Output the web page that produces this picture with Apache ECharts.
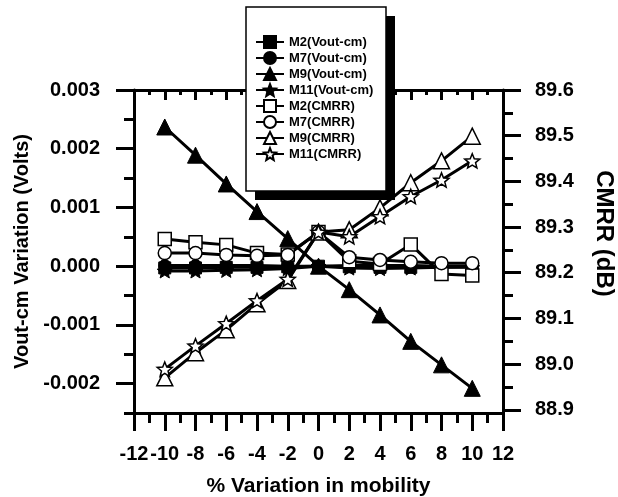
<!DOCTYPE html>
<html><head><meta charset="utf-8">
<script src="https://cdn.jsdelivr.net/npm/echarts@6/dist/echarts.min.js"></script>
<style>html,body{margin:0;padding:0;background:#fff}#c{width:618px;height:497px}</style>
</head><body><div id="c"></div>
<script>
// ---- data ----
const mobility = [-10, -8, -6, -4, -2, 0, 2, 4, 6, 8, 10];
const m2Vout  = [-0.00003, -0.00003, -0.00002, -0.00002, -0.00001, 0, -0.00001, -0.00002, -0.00002, -0.00002, -0.00001];
const m7Vout  = [0.00001, 0.00001, 0.00001, 0.00001, 0, 0, 0.00001, 0.00001, 0.00001, 0, 0];
const m9Vout  = [0.00237, 0.00189, 0.00140, 0.00093, 0.00047, 0, -0.00040, -0.00083, -0.00128, -0.00168, -0.00208];
const m11Vout = [-0.00008, -0.00008, -0.00007, -0.00006, -0.00004, 0, -0.00003, -0.00004, -0.00003, -0.00002, -0.00002];
const m2Cmrr  = [89.274, 89.267, 89.261, 89.243, 89.240, 89.289, 89.225, 89.219, 89.262, 89.197, 89.194];
const m7Cmrr  = [89.243, 89.243, 89.239, 89.237, 89.239, 89.289, 89.234, 89.228, 89.224, 89.221, 89.221];
const m9Cmrr  = [88.970, 89.025, 89.075, 89.132, 89.183, 89.289, 89.294, 89.342, 89.397, 89.445, 89.499];
const m11Cmrr = [88.989, 89.040, 89.089, 89.139, 89.186, 89.289, 89.279, 89.323, 89.367, 89.403, 89.445];
const seriesNames = ['M2(Vout-cm)', 'M7(Vout-cm)', 'M9(Vout-cm)', 'M11(Vout-cm)', 'M2(CMRR)', 'M7(CMRR)', 'M9(CMRR)', 'M11(CMRR)'];
const leftTicks  = [-0.002, -0.001, 0, 0.001, 0.002, 0.003];
const leftMinor  = [-0.0025, -0.0015, -0.0005, 0.0005, 0.0015, 0.0025];
const rightTicks = [88.9, 89.0, 89.1, 89.2, 89.3, 89.4, 89.5, 89.6];
const rightMinor = [88.95, 89.05, 89.15, 89.25, 89.35, 89.45, 89.55];

// ---- styling ----
const FONT = "'Liberation Sans', Arial, sans-serif";
const STAR = 'path://M50 0 L62.9 32.2 L97.55 34.55 L70.9 56.8 L79.39 90.45 L50 72 L20.61 90.45 L29.1 56.8 L2.45 34.55 L37.1 32.2 Z';
const pairs = arr => mobility.map((x, i) => [x, arr[i]]);
const filled = { color: '#000', borderColor: '#000', borderWidth: 1 };
const open = { color: '#fff', borderColor: '#000', borderWidth: 1.5 };
function mk(name, arr, yIdx, symbol, size, style) {
  return {
    name, type: 'line', xAxisIndex: 0, yAxisIndex: yIdx, data: pairs(arr),
    symbol, symbolSize: size, symbolKeepAspect: true, showAllSymbol: true,
    lineStyle: { color: '#000', width: 3 }, itemStyle: style,
    emphasis: { disabled: true }, animation: false
  };
}
const axisLine = { show: true, onZero: false, lineStyle: { color: '#000', width: 3 } };
const noLine = { show: false, onZero: false };
const lbl = { color: '#000', fontFamily: FONT, fontWeight: 'bold', fontSize: 20 };

const chart = echarts.init(document.getElementById('c'), null, { renderer: 'canvas' });
chart.setOption({
  backgroundColor: '#fff',
  animation: false,
  grid: { left: 134, right: 115, top: 90, bottom: 84, containLabel: false, outerBoundsMode: 'none' },
  graphic: [
    { type: 'rect', z: 3, shape: { x: 255, y: 16, width: 140, height: 184 }, style: { fill: '#000' } },
    { type: 'rect', z: 3, shape: { x: 246, y: 7, width: 140, height: 184 }, style: { fill: '#fff', stroke: '#000', lineWidth: 1.5 } }
  ],
  legend: {
    data: seriesNames, orient: 'vertical', left: 255, top: 35, z: 5,
    padding: 0, itemWidth: 28, itemHeight: 15, itemGap: 2,
    selectedMode: false,
    textStyle: { color: '#000', fontFamily: FONT, fontWeight: 'bold', fontSize: 13 }
  },
  xAxis: [
    {
      type: 'value', position: 'bottom', min: -12, max: 12, interval: 2,
      axisLine, splitLine: { show: false },
      axisTick: { show: true, inside: false, length: 18, lineStyle: { color: '#000', width: 3 } },
      minorTick: { show: true, splitNumber: 2, length: 10, lineStyle: { color: '#000', width: 3 } },
      axisLabel: Object.assign({ margin: 31 }, lbl),
      name: '% Variation in mobility', nameLocation: 'middle', nameGap: 63,
      nameTextStyle: { color: '#000', fontFamily: FONT, fontWeight: 'bold', fontSize: 21 }
    },
    {
      type: 'value', position: 'top', min: -12, max: 12, interval: 2,
      axisLine, splitLine: { show: false },
      axisTick: { show: true, inside: true, length: 10, lineStyle: { color: '#000', width: 3 } },
      minorTick: { show: true, splitNumber: 2, length: 5, lineStyle: { color: '#000', width: 3 } },
      axisLabel: { show: false }
    }
  ],
  yAxis: [
    {
      type: 'value', position: 'left', min: -0.0025, max: 0.003,
      axisLine, splitLine: { show: false },
      axisTick: { show: true, length: 18, customValues: leftTicks, lineStyle: { color: '#000', width: 3 } },
      axisLabel: Object.assign({ margin: 34, customValues: leftTicks, formatter: v => v.toFixed(3) }, lbl),
      name: 'Vout-cm Variation (Volts)', nameLocation: 'middle', nameGap: 102, nameRotate: 90,
      nameTextStyle: { color: '#000', fontFamily: FONT, fontWeight: 'bold', fontSize: 20 }
    },
    {
      type: 'value', position: 'right', min: 88.893, max: 89.6,
      axisLine, splitLine: { show: false },
      axisTick: { show: true, length: 18, customValues: rightTicks, lineStyle: { color: '#000', width: 3 } },
      axisLabel: Object.assign({ margin: 32, customValues: rightTicks, formatter: v => v.toFixed(1) }, lbl),
      name: 'CMRR (dB)', nameLocation: 'middle', nameGap: 89, nameRotate: -90,
      nameTextStyle: { color: '#000', fontFamily: FONT, fontWeight: 'bold', fontSize: 24, padding: [0, 36, 0, 0] }
    },
    {
      type: 'value', position: 'left', min: -0.0025, max: 0.003,
      axisLine: noLine, splitLine: { show: false },
      axisTick: { show: true, length: 10, customValues: leftMinor, lineStyle: { color: '#000', width: 3 } },
      axisLabel: { show: false }
    },
    {
      type: 'value', position: 'right', min: 88.893, max: 89.6,
      axisLine: noLine, splitLine: { show: false },
      axisTick: { show: true, length: 10, customValues: rightMinor, lineStyle: { color: '#000', width: 3 } },
      axisLabel: { show: false }
    }
  ],
  series: [
    mk(seriesNames[0], m2Vout, 0, 'rect', 12, filled),
    mk(seriesNames[1], m7Vout, 0, 'circle', 12, filled),
    mk(seriesNames[2], m9Vout, 0, 'triangle', 16, filled),
    mk(seriesNames[3], m11Vout, 0, STAR, 15, filled),
    mk(seriesNames[4], m2Cmrr, 1, 'rect', 13, open),
    mk(seriesNames[5], m7Cmrr, 1, 'circle', 13, open),
    mk(seriesNames[6], m9Cmrr, 1, 'triangle', 16, open),
    mk(seriesNames[7], m11Cmrr, 1, STAR, 15, open)
  ]
});
</script>
</body></html>
